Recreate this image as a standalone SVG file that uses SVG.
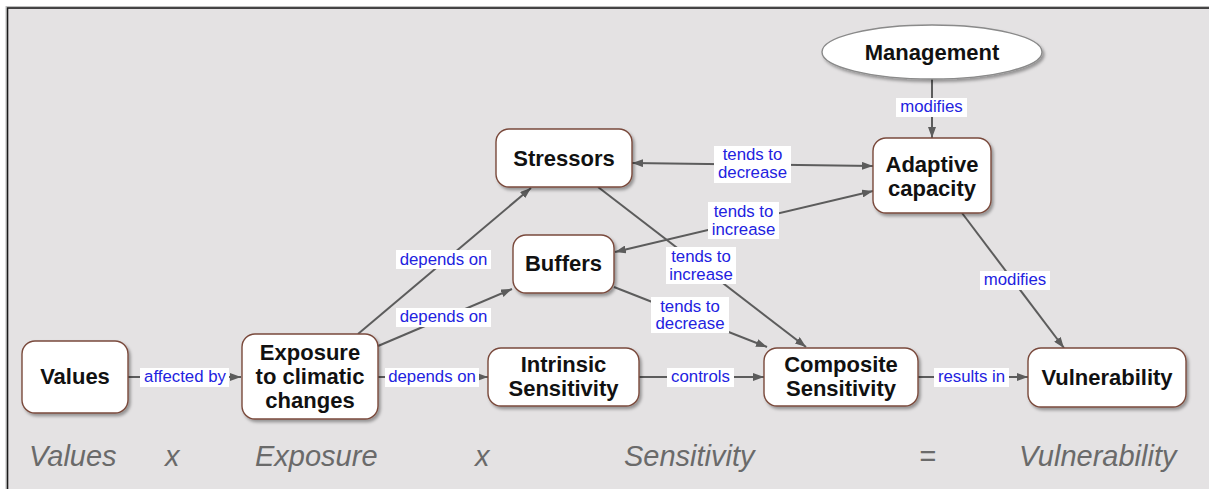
<svg xmlns="http://www.w3.org/2000/svg" width="1209" height="489" viewBox="0 0 1209 489">
<defs>
<style>
.node{fill:#ffffff;stroke:#7a4a3c;stroke-width:1.4;filter:url(#sh)}
.ell{fill:#ffffff;stroke:#8a8a8a;stroke-width:1.4;filter:url(#sh)}
.nt{font-family:"Liberation Sans",Arial,sans-serif;font-weight:bold;font-size:22px;fill:#111;text-anchor:middle}
.lb{fill:#ffffff}
.lt{font-family:"Liberation Sans",Arial,sans-serif;font-size:16.8px;fill:#2222e0;text-anchor:middle}
.ed{stroke:#5c5c5c;stroke-width:2;fill:none}
.ar{marker-end:url(#ah)}
.ba{marker-start:url(#ahs);marker-end:url(#ah)}
.eq{font-family:"Liberation Sans",Arial,sans-serif;font-style:italic;font-size:29px;fill:#6a6a6a}
</style>
<filter id="sh" x="-10%" y="-10%" width="130%" height="140%">
<feDropShadow dx="2" dy="2.5" stdDeviation="1.5" flood-color="#000" flood-opacity="0.35"/>
</filter>
<marker id="ah" markerUnits="userSpaceOnUse" markerWidth="12" markerHeight="8" refX="11" refY="4" orient="auto">
<path d="M0,0 L11,4 L0,8 z" fill="#5c5c5c"/>
</marker>
<marker id="ahs" markerUnits="userSpaceOnUse" markerWidth="12" markerHeight="8" refX="1" refY="4" orient="auto">
<path d="M12,0 L1,4 L12,8 z" fill="#5c5c5c"/>
</marker>
</defs>
<rect x="0" y="0" width="1209" height="489" fill="#ffffff"/>
<rect x="6" y="6.5" width="1210" height="490" fill="none" stroke="#bdbdbd" stroke-width="1"/>
<rect x="7.5" y="8" width="1210" height="490" fill="#e4e2e3" stroke="#1a1a1a" stroke-width="1.6"/>

<g id="connectors">
<line class="ed ar" x1="128" y1="377" x2="241" y2="377"/>
<line class="ed ar" x1="378" y1="377" x2="488" y2="377"/>
<line class="ed ar" x1="639" y1="377" x2="764" y2="377"/>
<line class="ed ar" x1="918" y1="377" x2="1028" y2="377"/>
<line class="ed ar" x1="358" y1="334" x2="531" y2="188"/>
<line class="ed ar" x1="378" y1="346" x2="512" y2="289"/>
<line class="ed ar" x1="932" y1="79" x2="932" y2="138"/>
<line class="ed ba" x1="632" y1="163" x2="873" y2="166"/>
<line class="ed ba" x1="615" y1="252" x2="873" y2="191"/>
<line class="ed ar" x1="598" y1="187" x2="806" y2="347"/>
<line class="ed ar" x1="614" y1="287" x2="767" y2="347"/>
<line class="ed ar" x1="962" y1="213" x2="1064" y2="348"/>

<rect class="lb" x="140" y="368" width="89" height="19"/>
<text class="lt" x="185" y="382">affected by</text>
<rect class="lb" x="385" y="368" width="94" height="19"/>
<text class="lt" x="432" y="382">depends on</text>
<rect class="lb" x="396" y="250" width="95" height="19"/>
<text class="lt" x="443.5" y="265">depends on</text>
<rect class="lb" x="396" y="308" width="95" height="19"/>
<text class="lt" x="443.5" y="322">depends on</text>
<rect class="lb" x="667" y="368" width="67" height="19"/>
<text class="lt" x="700.5" y="382">controls</text>
<rect class="lb" x="934" y="368" width="75" height="19"/>
<text class="lt" x="971.5" y="382">results in</text>
<rect class="lb" x="896" y="98" width="71" height="19"/>
<text class="lt" x="931.5" y="112">modifies</text>
<rect class="lb" x="980" y="271" width="70" height="19"/>
<text class="lt" x="1015" y="285">modifies</text>
<rect class="lb" x="714" y="146" width="77" height="37"/>
<text class="lt" x="752.5" y="160">tends to</text>
<text class="lt" x="752.5" y="178">decrease</text>
<rect class="lb" x="708" y="202" width="71" height="37"/>
<text class="lt" x="743.5" y="217">tends to</text>
<text class="lt" x="743.5" y="235">increase</text>
<rect class="lb" x="666" y="247" width="70" height="37"/>
<text class="lt" x="701" y="262">tends to</text>
<text class="lt" x="701" y="280">increase</text>
<rect class="lb" x="651" y="297" width="78" height="36"/>
<text class="lt" x="690" y="312">tends to</text>
<text class="lt" x="690" y="329">decrease</text>
</g>

<g id="values">
<rect class="node" x="22" y="341" width="106" height="72" rx="13"/>
<text class="nt" x="75" y="384">Values</text>
</g>
<g id="exposure">
<rect class="node" x="242" y="334" width="136" height="85" rx="13"/>
<text class="nt" x="310" y="360">Exposure</text>
<text class="nt" x="310" y="384">to climatic</text>
<text class="nt" x="310" y="408">changes</text>
</g>
<g id="intrinsic">
<rect class="node" x="488" y="348" width="151" height="58" rx="13"/>
<text class="nt" x="563.5" y="372">Intrinsic</text>
<text class="nt" x="563.5" y="396">Sensitivity</text>
</g>
<g id="composite">
<rect class="node" x="764" y="348" width="154" height="58" rx="13"/>
<text class="nt" x="841" y="372">Composite</text>
<text class="nt" x="841" y="396">Sensitivity</text>
</g>
<g id="vulnerability">
<rect class="node" x="1028" y="348" width="158" height="59" rx="13"/>
<text class="nt" x="1107" y="385">Vulnerability</text>
</g>
<g id="stressors">
<rect class="node" x="496" y="129" width="136" height="58" rx="13"/>
<text class="nt" x="564" y="166">Stressors</text>
</g>
<g id="buffers">
<rect class="node" x="513" y="235" width="101" height="58" rx="13"/>
<text class="nt" x="563.5" y="271">Buffers</text>
</g>
<g id="adaptive">
<rect class="node" x="873" y="138" width="118" height="75" rx="13"/>
<text class="nt" x="932" y="172">Adaptive</text>
<text class="nt" x="932" y="196">capacity</text>
</g>
<g id="management">
<ellipse class="ell" cx="932" cy="52" rx="110" ry="27"/>
<text class="nt" x="932" y="60">Management</text>
</g>

<g id="equation">
<text class="eq" x="29" y="466">Values</text>
<text class="eq" x="165" y="466">x</text>
<text class="eq" x="255" y="466">Exposure</text>
<text class="eq" x="475" y="466">x</text>
<text class="eq" x="624" y="466">Sensitivity</text>
<text class="eq" x="919" y="466">=</text>
<text class="eq" x="1019" y="466">Vulnerability</text>
</g>
</svg>
